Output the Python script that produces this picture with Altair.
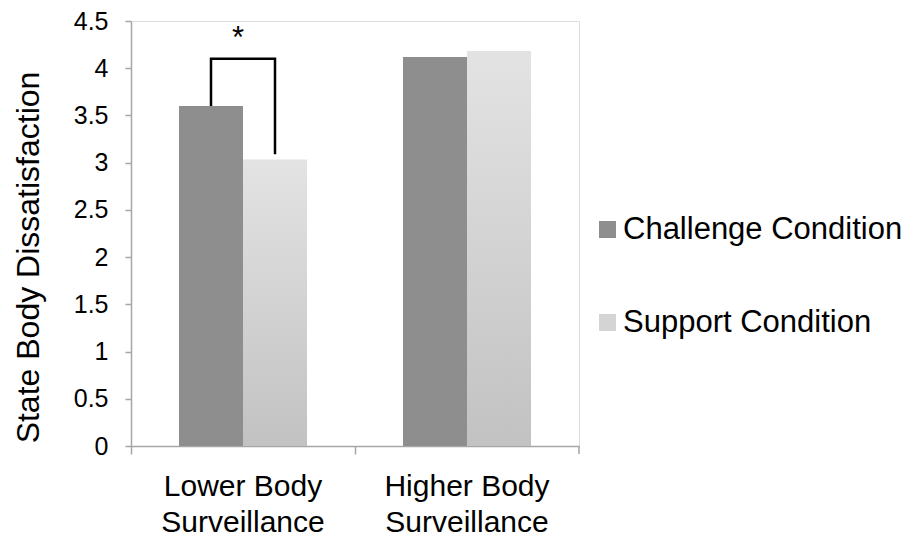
import altair as alt
import pandas as pd

groups = ["Lower Body Surveillance", "Higher Body Surveillance"]
conditions = ["Challenge Condition", "Support Condition"]
challenge_vals = [3.60, 4.12]
support_vals = [3.03, 4.18]

# significance bracket (lower body group)
bracket_cond = ["Challenge Condition", "Challenge Condition", "Support Condition", "Support Condition"]
bracket_vals = [3.60, 4.10, 4.10, 3.09]
bracket_order = [0, 1, 2, 3]
star_val = 4.21

rows = []
for g, c, s in zip(groups, challenge_vals, support_vals):
    rows.append({"group": g, "condition": conditions[0], "value": c})
    rows.append({"group": g, "condition": conditions[1], "value": s})
bars_df = pd.DataFrame(rows)

bracket_df = pd.DataFrame({
    "group": [groups[0]] * 4,
    "condition": bracket_cond,
    "value": bracket_vals,
    "order": bracket_order,
})
star_df = pd.DataFrame({"group": [groups[0]], "value": [star_val], "label": ["*"]})

FONT = "Liberation Sans"
AX = "#a6a6a6"
W, H = 448, 425

x_enc = alt.X(
    "group:N",
    sort=groups,
    scale=alt.Scale(domain=groups, paddingInner=0, paddingOuter=0),
    axis=alt.Axis(
        title=None,
        bandPosition=0,
        labelAngle=0,
        labelFontSize=30,
        labelFont=FONT,
        labelColor="black",
        labelLineHeight=36,
        labelPadding=17,
        labelBaseline="top",
        labelExpr="[replace(datum.label, ' Surveillance', ''), 'Surveillance']",
        tickSize=8,
        tickColor=AX,
        tickWidth=1.5,
        domainColor=AX,
        domainWidth=1.5,
    ),
)
xoff_enc = alt.XOffset(
    "condition:N",
    sort=conditions,
    scale=alt.Scale(domain=conditions, paddingInner=0, paddingOuter=0.75),
)
y_enc = alt.Y(
    "value:Q",
    scale=alt.Scale(domain=[0, 4.5], nice=False),
    axis=alt.Axis(
        title="State Body Dissatisfaction",
        titleFont=FONT,
        titleFontSize=32,
        titleFontWeight="normal",
        titleColor="black",
        titleAngle=-90,
        titleAlign="center",
        titleBaseline="alphabetic",
        titleX=-93,
        titleY=236,
        values=[0, 0.5, 1, 1.5, 2, 2.5, 3, 3.5, 4, 4.5],
        format="~g",
        labelFont=FONT,
        labelFontSize=25,
        labelColor="black",
        labelPadding=17,
        tickSize=6,
        tickColor=AX,
        tickWidth=1.5,
        domainColor=AX,
        domainWidth=1.5,
        grid=False,
    ),
)

bars = alt.Chart(bars_df).mark_bar().encode(
    x=x_enc,
    xOffset=xoff_enc,
    y=y_enc,
    color=alt.Color(
        "condition:N",
        sort=conditions,
        scale=alt.Scale(domain=conditions, range=["#8e8e8e", "#d4d4d4"]),
        legend=alt.Legend(
            title=None,
            orient="none",
            legendX=461,
            legendY=193,
            symbolType="square",
            symbolSize=289,
            symbolStrokeWidth=0,
            labelFont=FONT,
            labelFontSize=31,
            labelColor="black",
            labelOffset=0,
            labelLimit=600,
            rowPadding=61,
        ),
    ),
)

grad = alt.Gradient(
    gradient="linear",
    stops=[
        alt.GradientStop(color="#e3e3e3", offset=0),
        alt.GradientStop(color="#c2c2c2", offset=1),
    ],
    x1=0, x2=0, y1=0, y2=1,
)
support_bars = alt.Chart(bars_df).transform_filter(
    alt.datum.condition == "Support Condition"
).mark_bar(color=grad).encode(
    x=alt.X("group:N", sort=groups),
    xOffset=alt.XOffset("condition:N", sort=conditions),
    y=alt.Y("value:Q"),
)

bracket = alt.Chart(bracket_df).mark_line(
    color="black", strokeWidth=2.5, strokeJoin="miter"
).encode(
    x=alt.X("group:N", sort=groups),
    xOffset=alt.XOffset("condition:N", sort=conditions),
    y=alt.Y("value:Q"),
    order="order:Q",
)

star = alt.Chart(star_df).mark_text(
    font=FONT, fontSize=31, baseline="alphabetic", align="center", dx=-5, color="black"
).encode(
    x=alt.X("group:N", sort=groups),
    y=alt.Y("value:Q"),
    text="label:N",
)

x_end_tick = alt.Chart(star_df).mark_rule(color=AX, strokeWidth=1.5).encode(
    x=alt.value(W), y=alt.value(H), y2=alt.value(H + 8)
)

chart = alt.layer(bars, support_bars, bracket, star, x_end_tick).properties(
    width=W,
    height=H,
    autosize=alt.AutoSizeParams(type="none"),
    padding={"left": 123, "top": 13, "right": 328, "bottom": 90},
).configure_view(stroke=None).configure(background="white")

chart.save("out.html", embed_options={"renderer": "svg", "actions": False})
